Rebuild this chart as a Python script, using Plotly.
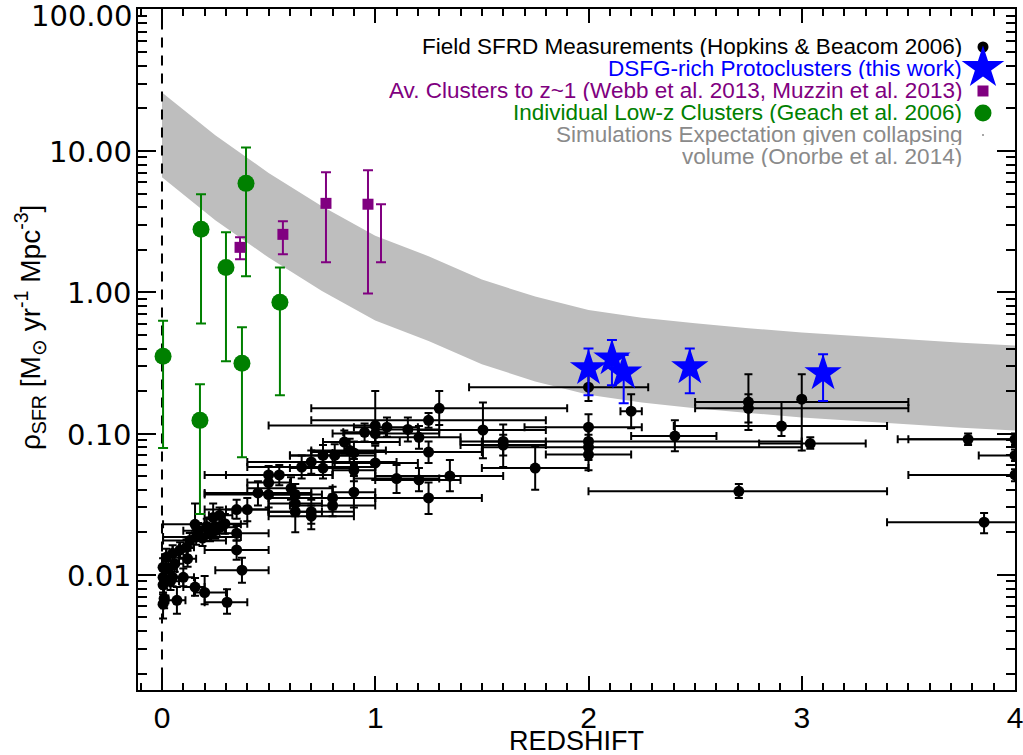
import math
import plotly.graph_objects as go

# ---------------- data ----------------
# Field SFRD measurements (Hopkins & Beacom 2006)
hb_z = [0.005, 0.005, 0.005, 0.005, 0.01, 0.02, 0.03, 0.04, 0.05, 0.05,
        0.07, 0.085, 0.10, 0.115, 0.13, 0.155, 0.155, 0.16, 0.19, 0.20,
        0.225, 0.25, 0.24, 0.27, 0.27, 0.295, 0.305, 0.35, 0.35, 0.375,
        0.35, 0.40, 0.12, 0.06, 0.17, 0.21, 0.45, 0.50, 0.50, 0.50,
        0.55, 0.605, 0.625, 0.625, 0.625, 0.70, 0.70, 0.655, 0.70, 0.755,
        0.755, 0.81, 0.80, 0.80, 0.855, 0.88, 0.90, 0.90, 0.90, 0.95,
        1.0, 1.0, 1.0, 1.055, 1.10, 1.153, 1.205, 1.205, 1.25, 1.25,
        1.25, 1.30, 1.35, 1.505, 1.60, 1.60, 1.75, 2.0, 2.0, 2.0,
        2.0, 2.0, 2.2, 2.405, 2.705, 2.75, 2.75, 2.905, 3.0, 3.04,
        3.78, 4.0, 4.0, 4.0, 3.855]
hb_sfr = [0.0113, 0.0096, 0.0085, 0.0062, 0.0068, 0.0133, 0.0110, 0.0090, 0.0142, 0.0096,
          0.0066, 0.0150, 0.0096, 0.0157, 0.0175, 0.0228, 0.0082, 0.0185, 0.0182, 0.0075,
          0.0197, 0.0206, 0.0255, 0.0217, 0.0264, 0.0230, 0.0064, 0.0197, 0.0150, 0.0108,
          0.029, 0.029, 0.0130, 0.0120, 0.0205, 0.0220, 0.038, 0.037, 0.045, 0.051,
          0.051, 0.041, 0.037, 0.032, 0.028, 0.028, 0.026, 0.058, 0.063, 0.057,
          0.070, 0.070, 0.035, 0.031, 0.087, 0.076, 0.073, 0.055, 0.0385, 0.102,
          0.114, 0.100, 0.062, 0.111, 0.048, 0.107, 0.094, 0.047, 0.124, 0.074,
          0.035, 0.151, 0.050, 0.106, 0.088, 0.083, 0.057, 0.213, 0.111, 0.088,
          0.080, 0.071, 0.144, 0.096, 0.039, 0.167, 0.151, 0.113, 0.175, 0.085,
          0.091, 0.091, 0.070, 0.051, 0.0236]
hb_zlo = [0.0, 0.0, 0.0, 0.0, 0.0, 0.0, 0.0, 0.0, 0.02, 0.0,
          0.03, 0.05, 0.05, 0.08, 0.005, 0.005, 0.1, 0.005, 0.15, 0.15,
          0.2, 0.2, 0.2, 0.2, 0.22, 0.2, 0.2, 0.2, 0.2, 0.25,
          0.2, 0.3, 0.08, 0.02, 0.1, 0.15, 0.2, 0.2, 0.4, 0.2,
          0.3, 0.4, 0.5, 0.5, 0.5, 0.5, 0.5, 0.4, 0.4, 0.6,
          0.6, 0.6, 0.5, 0.6, 0.755, 0.7, 0.8, 0.8, 0.8, 0.85,
          0.5, 0.8, 0.8, 0.9, 0.9, 1.0, 1.0, 1.0, 0.7, 0.7,
          1.0, 0.7, 1.0, 1.2, 1.4, 1.4, 1.5, 1.44, 1.7, 1.5,
          1.5, 1.8, 2.15, 2.2, 2.0, 2.5, 2.5, 2.4, 3.0, 2.8,
          3.45, 3.5, 3.83, 3.5, 3.4]
hb_zhi = [0.02, 0.02, 0.01, 0.01, 0.03, 0.05, 0.07, 0.08, 0.08, 0.10,
          0.11, 0.12, 0.15, 0.15, 0.30, 0.37, 0.2, 0.37, 0.23, 0.3,
          0.25, 0.3, 0.28, 0.35, 0.33, 0.4, 0.4, 0.5, 0.5, 0.5,
          0.5, 0.5, 0.16, 0.1, 0.25, 0.27, 0.7, 0.7, 0.6, 0.8,
          0.8, 0.8, 0.75, 0.75, 0.75, 0.9, 0.9, 1.0, 1.1, 0.9,
          0.9, 1.0, 1.0, 1.0, 1.115, 1.05, 1.0, 1.0, 1.0, 1.05,
          1.0, 1.3, 1.2, 1.2, 1.3, 1.3, 1.4, 1.4, 1.8, 1.5,
          1.5, 1.9, 1.6, 1.8, 1.8, 1.8, 2.0, 2.28, 2.25, 3.0,
          3.0, 2.2, 2.25, 2.6, 3.4, 3.5, 3.5, 3.4, 3.0, 3.3,
          4.1, 4.5, 4.2, 4.5, 4.3]
hb_lo = [0.0098, 0.0083, 0.0073, 0.0049, 0.0058, 0.0115, 0.0095, 0.0078, 0.0125, 0.0083,
         0.0053, 0.0132, 0.0083, 0.0138, 0.0155, 0.0205, 0.0071, 0.0163, 0.0160, 0.0062,
         0.0173, 0.0180, 0.0210, 0.0185, 0.0230, 0.0195, 0.0053, 0.0175, 0.0128, 0.0088,
         0.025, 0.024, 0.0114, 0.0105, 0.0180, 0.0193, 0.031, 0.030, 0.038, 0.044,
         0.043, 0.034, 0.031, 0.026, 0.020, 0.023, 0.021, 0.048, 0.052, 0.048,
         0.059, 0.058, 0.029, 0.026, 0.072, 0.063, 0.060, 0.046, 0.030, 0.088,
         0.085, 0.085, 0.047, 0.095, 0.038, 0.088, 0.078, 0.039, 0.110, 0.062,
         0.027, 0.115, 0.039, 0.067, 0.058, 0.070, 0.040, 0.170, 0.090, 0.072,
         0.065, 0.055, 0.109, 0.075, 0.035, 0.106, 0.120, 0.096, 0.076, 0.078,
         0.083, 0.083, 0.064, 0.046, 0.0197]
hb_hi = [0.0131, 0.0111, 0.0099, 0.0075, 0.0080, 0.0153, 0.0127, 0.0104, 0.0162, 0.0111,
         0.0082, 0.0170, 0.0111, 0.0178, 0.0198, 0.0320, 0.0095, 0.0210, 0.0207, 0.0098,
         0.0224, 0.0235, 0.0320, 0.0255, 0.0300, 0.0270, 0.0079, 0.0222, 0.0175, 0.0132,
         0.034, 0.035, 0.0148, 0.0137, 0.0233, 0.0250, 0.046, 0.045, 0.053, 0.059,
         0.060, 0.049, 0.044, 0.039, 0.035, 0.034, 0.031, 0.070, 0.076, 0.068,
         0.083, 0.084, 0.042, 0.037, 0.105, 0.092, 0.088, 0.066, 0.050, 0.118,
         0.200, 0.118, 0.082, 0.130, 0.060, 0.130, 0.113, 0.057, 0.140, 0.088,
         0.045, 0.200, 0.065, 0.166, 0.116, 0.098, 0.081, 0.260, 0.137, 0.108,
         0.098, 0.092, 0.190, 0.124, 0.044, 0.263, 0.190, 0.167, 0.263, 0.094,
         0.100, 0.100, 0.077, 0.056, 0.0274]

# DSFG-rich protoclusters (this work)
pc_z = [2.0, 2.11, 2.165, 2.475, 3.1]
pc_sfr = [0.29, 0.34, 0.27, 0.294, 0.267]
pc_lo = [0.187, 0.22, 0.164, 0.193, 0.17]
pc_hi = [0.40, 0.46, 0.36, 0.40, 0.364]

# Averaged clusters to z~1 (Webb et al. 2013, Muzzin et al. 2013)
av_z = [0.366, 0.567, 0.769, 0.966]
av_sfr = [2.08, 2.57, 4.26, 4.2]
av_lo = [1.71, 1.86, 1.63, 0.98]
av_hi = [2.45, 3.18, 7.07, 7.3]
# error bar drawn without a marker
av_bar_z = [1.027]
av_bar_lo = [1.63]
av_bar_hi = [4.2]

# Individual low-z clusters (Geach et al. 2006)
gc_z = [0.005, 0.178, 0.183, 0.30, 0.375, 0.394, 0.553]
gc_sfr = [0.352, 0.124, 2.79, 1.50, 0.315, 5.9, 0.85]
gc_lo = [0.079, 0.027, 0.60, 0.325, 0.068, 1.30, 0.187]
gc_hi = [0.63, 0.223, 4.94, 2.66, 0.565, 10.6, 1.50]

# Simulation expectation band (Onorbe et al. 2014)
band_z = [0.0, 0.25, 0.5, 0.75, 1.0, 1.25, 1.5, 1.75, 2.0, 2.25, 2.5, 2.75,
          3.0, 3.25, 3.5, 3.75, 4.0]
band_lower = [6.52, 3.24, 1.76, 1.02, 0.631, 0.452, 0.309, 0.234, 0.188, 0.166,
              0.151, 0.140, 0.130, 0.123, 0.116, 0.110, 0.105]
band_upper = [25.9, 12.9, 7.0, 4.06, 2.51, 1.80, 1.23, 0.933, 0.750, 0.661,
              0.603, 0.556, 0.519, 0.490, 0.462, 0.440, 0.420]

y_tickvals = [0.01, 0.1, 1, 10, 100]
y_ticktext = ["0.01", "0.10", "1.00", "10.00", "100.00"]
x_tickvals = [0, 1, 2, 3, 4]

legend_text = ["Field SFRD Measurements (Hopkins & Beacom 2006)",
               "DSFG-rich Protoclusters (this work)",
               "Av. Clusters to z~1 (Webb et al. 2013, Muzzin et al. 2013)",
               "Individual Low-z Clusters (Geach et al. 2006)",
               "Simulations Expectation given collapsing",
               "volume (Onorbe et al. 2014)"]

# ---------------- figure ----------------
BLACK = "#000000"
BLUE = "#0000ff"
PURPLE = "#800080"
GREEN = "#008000"
GRAY = "#8a8a8a"
BAND = "#bebebe"

fig = go.Figure()

fig.add_trace(go.Scatter(
    x=band_z + band_z[::-1], y=band_upper + band_lower[::-1],
    mode="lines", fill="toself", fillcolor=BAND, line=dict(width=0),
    hoverinfo="skip", showlegend=False))

fig.add_trace(go.Scatter(
    x=[0, 0], y=[1e-4, 1e4], mode="lines",
    line=dict(color=BLACK, width=2, dash="10px,8px"),
    hoverinfo="skip", showlegend=False))


def err(vals, lo, hi):
    return ([h - v for v, h in zip(vals, hi)], [v - l for v, l in zip(vals, lo)])


ep, em = err(hb_sfr, hb_lo, hb_hi)
xp, xm = err(hb_z, hb_zlo, hb_zhi)
fig.add_trace(go.Scatter(
    x=hb_z, y=hb_sfr, mode="markers",
    marker=dict(symbol="circle", size=11, color=BLACK),
    error_x=dict(type="data", symmetric=False, array=xp, arrayminus=xm,
                 color=BLACK, thickness=2, width=4),
    error_y=dict(type="data", symmetric=False, array=ep, arrayminus=em,
                 color=BLACK, thickness=2, width=4),
    showlegend=False))

ep, em = err(gc_sfr, gc_lo, gc_hi)
fig.add_trace(go.Scatter(
    x=gc_z, y=gc_sfr, mode="markers",
    marker=dict(symbol="circle", size=17, color=GREEN),
    error_y=dict(type="data", symmetric=False, array=ep, arrayminus=em,
                 color=GREEN, thickness=2, width=5),
    showlegend=False))

ep, em = err(av_sfr, av_lo, av_hi)
fig.add_trace(go.Scatter(
    x=av_z, y=av_sfr, mode="markers",
    marker=dict(symbol="square", size=11, color=PURPLE),
    error_y=dict(type="data", symmetric=False, array=ep, arrayminus=em,
                 color=PURPLE, thickness=2, width=5),
    showlegend=False))

fig.add_trace(go.Scatter(
    x=av_bar_z, y=av_bar_lo, mode="markers",
    marker=dict(size=1, color="rgba(0,0,0,0)"),
    error_y=dict(type="data", symmetric=False,
                 array=[h - l for l, h in zip(av_bar_lo, av_bar_hi)], arrayminus=[0],
                 color=PURPLE, thickness=2, width=5),
    showlegend=False))

ep, em = err(pc_sfr, pc_lo, pc_hi)
fig.add_trace(go.Scatter(
    x=pc_z, y=pc_sfr, mode="markers",
    marker=dict(symbol="star", size=28, color=BLUE),
    error_y=dict(type="data", symmetric=False, array=ep, arrayminus=em,
                 color=BLUE, thickness=2, width=5),
    showlegend=False))

# legend symbols (plot-area fractional coordinates), one trace per symbol
leg_x = 0.9635
leg_items = [("circle", 11, BLACK, 0.9442),
             ("star", 32, BLUE, 0.9135),
             ("square", 11, PURPLE, 0.8796),
             ("circle", 17, GREEN, 0.8473),
             ("circle", 2, GRAY, 0.8150)]
for sym, sz, col, yy in leg_items:
    fig.add_trace(go.Scatter(
        x=[leg_x], y=[yy], xaxis="x2", yaxis="y2", mode="markers", cliponaxis=False,
        marker=dict(symbol=sym, size=sz, color=col, opacity=1,
                    line=dict(width=0, color=col)),
        hoverinfo="skip", showlegend=False))

text_y = [0.9442, 0.9119, 0.8796, 0.8473, 0.8150, 0.7827]
text_col = [BLACK, BLUE, PURPLE, GREEN, GRAY, GRAY]
annotations = []
for t, yy, c in zip(legend_text, text_y, text_col):
    annotations.append(dict(text=t, x=0.9407, y=yy, xref="paper", yref="paper",
                            xanchor="right", yanchor="middle", showarrow=False,
                            height=21, borderpad=0,
                            font=dict(size=22.5, color=c, family="Liberation Sans")))

# y tick labels as annotations (so the top label can sit fully inside the page)
for v, t in zip(y_tickvals, y_ticktext):
    annotations.append(dict(text=t, x=-0.0057, y=math.log10(v), xref="paper", yref="y",
                            xanchor="right", yanchor="middle", showarrow=False,
                            yshift=(-6 if v == 100 else -1), borderpad=0, height=24,
                            font=dict(size=29, color=BLACK, family="DejaVu Sans")))

annotations.append(dict(
    text="ρ<sub>SFR</sub> [M<sub>⊙</sub> yr<sup>-1</sup> Mpc<sup>-3</sup>]",
    x=-0.123, y=0.5316, xref="paper", yref="paper", textangle=-90,
    xanchor="center", yanchor="middle", showarrow=False,
    font=dict(size=28, color=BLACK, family="Liberation Sans")))

annotations.append(dict(
    text="REDSHIFT", x=0.5, y=-0.0749, xref="paper", yref="paper",
    xanchor="center", yanchor="middle", showarrow=False, height=22, borderpad=0,
    font=dict(size=27, color=BLACK, family="Liberation Sans")))

y_minor = [k * 10.0 ** e for e in range(-3, 3) for k in range(2, 10)]

fig.update_layout(
    width=1023, height=755,
    margin=dict(l=138, r=8, t=9, b=65, autoexpand=False),
    paper_bgcolor="white", plot_bgcolor="white",
    showlegend=False,
    annotations=annotations,
    xaxis=dict(range=[-0.1125, 4.0], showgrid=False, zeroline=False,
               automargin=False, ticklabeloverflow="allow",
               showline=True, linecolor=BLACK, linewidth=2, mirror="ticks",
               ticks="inside", ticklen=14, tickwidth=2, tickcolor=BLACK,
               tickvals=x_tickvals, ticktext=[str(v) for v in x_tickvals],
               tickfont=dict(size=30, color=BLACK, family="Liberation Sans"),
               minor=dict(ticks="inside", ticklen=7, tickwidth=1.5,
                          tickcolor=BLACK, dtick=0.1, showgrid=False)),
    yaxis=dict(type="log", range=[-2.815, 2.005], showgrid=False, zeroline=False,
               automargin=False, showticklabels=False,
               showline=True, linecolor=BLACK, linewidth=2, mirror="ticks",
               ticks="inside", ticklen=18, tickwidth=2, tickcolor=BLACK,
               tickvals=y_tickvals,
               minor=dict(ticks="inside", ticklen=9, tickwidth=1.5,
                          tickcolor=BLACK, tickvals=y_minor, showgrid=False)),
    xaxis2=dict(overlaying="x", range=[0, 1], visible=False, automargin=False),
    yaxis2=dict(overlaying="y", range=[0, 1], visible=False, automargin=False),
)

fig.write_html("out.html")
